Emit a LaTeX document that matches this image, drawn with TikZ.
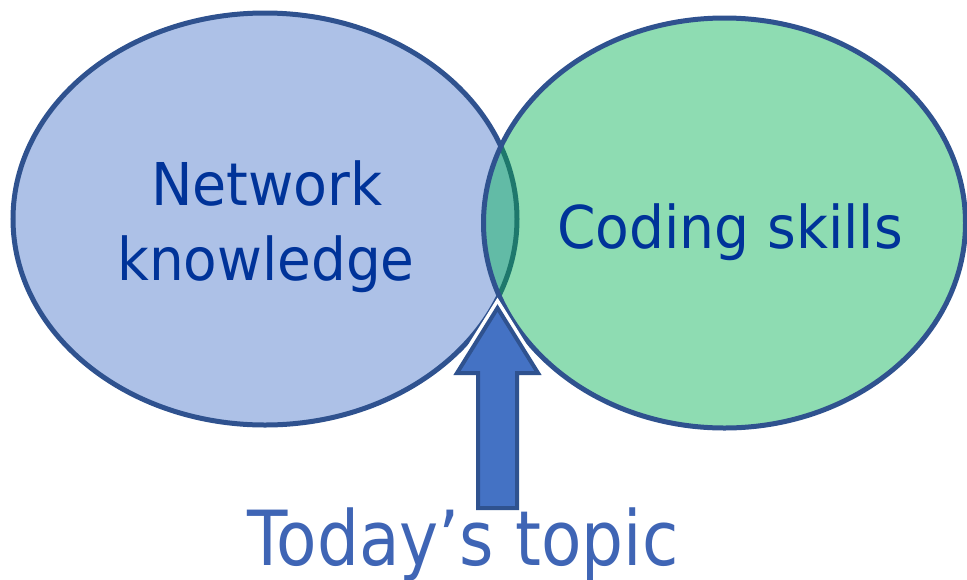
\documentclass[tikz,border=0pt]{standalone}
\usepackage{graphicx}
\usepackage{fontspec}
\setmainfont{DejaVu Sans}
\definecolor{netfill}{RGB}{173,193,231}
\definecolor{codefill}{RGB}{142,220,178}
\definecolor{overlap}{RGB}{98,187,166}
\definecolor{rim}{RGB}{47,82,143}
\definecolor{innerrim}{RGB}{30,120,108}
\definecolor{arrowfill}{RGB}{68,114,196}
\definecolor{labeldark}{RGB}{0,51,153}
\definecolor{labelsoft}{RGB}{63,101,181}
\begin{document}
\begin{tikzpicture}[x=1pt,y=-1pt,
  label/.style={inner sep=0pt,anchor=base,text=labeldark,font=\fontsize{59}{59}\selectfont},
  caption/.style={inner sep=0pt,anchor=base,text=labelsoft,font=\fontsize{76}{76}\selectfont}]
\useasboundingbox (0,0) rectangle (967,579);
% the two sets
\def\netset{(265,219) ellipse [x radius=252,y radius=206]}
\def\codeset{(724.5,223) ellipse [x radius=241,y radius=205]}
\fill[netfill] \netset;
\draw[rim,line width=5] \netset;
\fill[codefill] \codeset;
% shared region
\begin{scope}
  \clip \netset;
  \fill[overlap] \codeset;
\end{scope}
\begin{scope}
  \clip \codeset;
  \draw[innerrim,line width=5] \netset;
\end{scope}
\draw[rim,line width=5] \codeset;
% pointer to the shared region
\def\pointer{(478,508) -- (478,373) -- (457,373) -- (497.5,308) -- (538,373) -- (517,373) -- (517,508) -- cycle}
\draw[white,line width=11,line join=miter] \pointer;
\filldraw[fill=arrowfill,draw=rim,line width=4,line join=miter] \pointer;
% labels
\node[label] (net1) at (267,205) {\scalebox{0.94}[1]{Network}};
\node[label] (net2) at (266,280) {\scalebox{0.93}[1]{knowledge}};
\node[label] (code) at (730,248) {\scalebox{0.935}[1]{Coding skills}};
\node[caption] (topic) at (463,565) {\scalebox{0.87}[1]{Today’s topic}};
\end{tikzpicture}
\end{document}
